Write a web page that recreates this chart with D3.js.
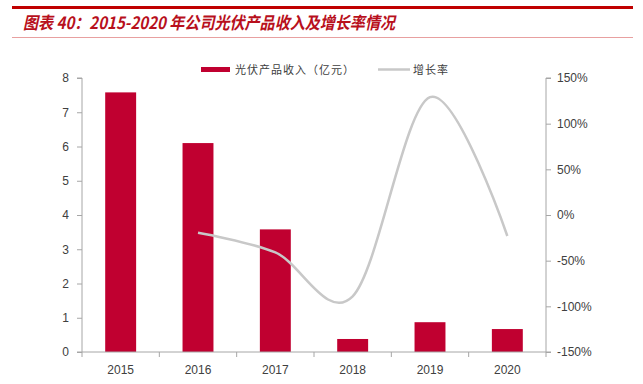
<!DOCTYPE html>
<html>
<head>
<meta charset="utf-8">
<script src="https://cdn.jsdelivr.net/npm/d3@7"></script>
<style>
  body { margin: 0; background: #fff; }
  svg { display: block; font-family: "Liberation Sans", Arial, sans-serif; }
</style>
</head>
<body>
<div id="chart"></div>
<script>
// data
var years = ["2015", "2016", "2017", "2018", "2019", "2020"];
var revenue = [7.58, 6.1, 3.58, 0.38, 0.87, 0.67];          // 亿元
var growth = [null, -19.5, -41, -89, 129, -23];              // %
var leftTicks = [0, 1, 2, 3, 4, 5, 6, 7, 8];
var rightTicks = [-150, -100, -50, 0, 50, 100, 150];

var W = 643, H = 384;
var svg = d3.select("#chart").append("svg")
    .attr("width", W)
    .attr("height", H);

// title block
svg.append("rect").attr("x", 12).attr("y", 6).attr("width", 621).attr("height", 3).attr("fill", "#c00000");
svg.append("text")
    .attr("x", 23).attr("y", 29)
    .attr("fill", "#b8101c")
    .attr("textLength", 372)
    .attr("lengthAdjust", "spacingAndGlyphs")
    .style("font-family", "'Noto Sans CJK SC', sans-serif")
    .style("font-size", "17px")
    .style("font-weight", "bold")
    .style("font-style", "italic")
    .text("图表 40：2015-2020 年公司光伏产品收入及增长率情况");
svg.append("rect").attr("x", 12).attr("y", 37).attr("width", 621).attr("height", 1).attr("fill", "#e8a0a0");

// plot area
var pL = 82, pR = 546, pT = 78, pB = 352;
var x = d3.scaleBand().domain(years).range([pL, pR]).paddingInner(0.6).paddingOuter(0.3);
var xc = d3.scaleBand().domain(years).range([pL, pR]);
var y = d3.scaleLinear().domain([0, 8]).range([pB, pT]);
var y2 = d3.scaleLinear().domain([-150, 150]).range([pB, pT]);

// bars
svg.selectAll(".bar")
    .data(revenue)
  .enter().append("rect")
    .attr("class", "bar")
    .attr("x", function(d, i) { return x(years[i]); })
    .attr("y", function(d) { return y(d); })
    .attr("width", x.bandwidth())
    .attr("height", function(d) { return pB - y(d); })
    .attr("fill", "#c00030");

// growth line (smoothed)
var pts = growth.map(function(d, i) { return [years[i], d]; }).filter(function(d) { return d[1] !== null; });
var line = d3.line()
    .x(function(d) { return xc(d[0]) + xc.bandwidth() / 2; })
    .y(function(d) { return y2(d[1]); })
    .curve(d3.curveCatmullRom.alpha(0));
svg.append("path")
    .datum(pts)
    .attr("d", line)
    .attr("fill", "none")
    .attr("stroke", "#c8c8c8")
    .attr("stroke-width", 2.5);

// axes
var axisColor = "#a6a6a6";
var gl = svg.append("g")
    .attr("transform", "translate(" + pL + ",0)")
    .call(d3.axisLeft(y).tickValues(leftTicks).tickSize(5).tickPadding(8));
var gr = svg.append("g")
    .attr("transform", "translate(" + pR + ",0)")
    .call(d3.axisRight(y2).tickValues(rightTicks).tickSize(5).tickPadding(6)
      .tickFormat(function(d) { return d + "%"; }));
var gx = svg.append("g")
    .attr("transform", "translate(0," + pB + ")")
    .call(d3.axisBottom(xc).tickSize(0).tickPadding(13));

// x ticks at band edges
svg.selectAll(".xtick")
    .data(d3.range(years.length + 1))
  .enter().append("line")
    .attr("x1", function(i) { return pL + i * xc.step(); })
    .attr("x2", function(i) { return pL + i * xc.step(); })
    .attr("y1", pB).attr("y2", pB + 5)
    .attr("stroke", axisColor);

[gl, gr, gx].forEach(function(g) {
  g.selectAll("path, line").attr("stroke", axisColor);
  g.selectAll("text").attr("fill", "#404040").style("font-size", "12px");
});
gl.select(".domain").attr("d", "M-5," + pT + "H0V" + pB);
gr.select(".domain").attr("d", "M5," + pT + "H0V" + pB);
gx.select(".domain").attr("d", "M" + (pL - 5) + ",0H" + (pR + 5));

// legend
var lg = svg.append("g")
    .style("font-family", "'Noto Sans CJK SC', sans-serif")
    .style("font-size", "11px")
    .style("letter-spacing", "1px");
lg.append("rect").attr("x", 201).attr("y", 67).attr("width", 29).attr("height", 5).attr("fill", "#c00030");
lg.append("text").attr("x", 235).attr("y", 73.5).attr("fill", "#404040").text("光伏产品收入（亿元）");
lg.append("line").attr("x1", 378).attr("x2", 410).attr("y1", 69.5).attr("y2", 69.5)
    .attr("stroke", "#c8c8c8").attr("stroke-width", 2.5);
lg.append("text").attr("x", 413).attr("y", 73.5).attr("fill", "#404040").text("增长率");
</script>
</body>
</html>
